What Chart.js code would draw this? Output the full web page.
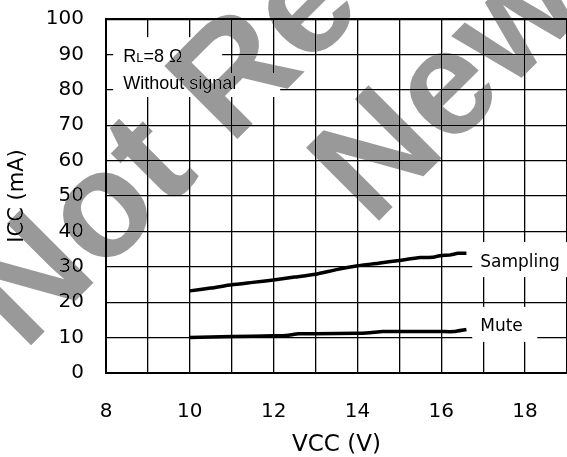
<!DOCTYPE html>
<html>
<head>
<meta charset="utf-8">
<script src="https://cdn.jsdelivr.net/npm/chart.js@4.4.1/dist/chart.umd.min.js"></script>
<style>
  html, body { margin: 0; padding: 0; background: #fff; }
  canvas { display: block; }
</style>
</head>
<body>
<canvas id="grafico" width="567" height="457"></canvas>
<script>
// Datos (VCC en V, ICC en mA)
const vccSampling = [10, 10.5, 11, 11.5, 12, 12.5, 13, 13.5, 14, 14.5, 15, 15.5, 15.8, 16, 16.2, 16.4, 16.6];
const iccSampling = [23.2, 24.0, 24.9, 25.6, 26.3, 27.1, 27.9, 29.2, 30.3, 31.0, 31.8, 32.6, 32.7, 33.2, 33.3, 33.8, 33.8];
const vccMute = [10, 11, 12, 12.3, 12.6, 13, 14, 14.3, 14.6, 15, 16, 16.3, 16.6];
const iccMute = [10.0, 10.3, 10.5, 10.6, 11.1, 11.1, 11.2, 11.4, 11.7, 11.7, 11.7, 11.7, 12.3];
const xEtiquetas = [8, 10, 12, 14, 16, 18];
const yEtiquetas = [0, 10, 20, 30, 40, 50, 60, 70, 80, 90, 100];

const aPuntos = (xs, ys) => xs.map((x, i) => ({ x: x, y: ys[i] }));

// Notas con fondo blanco (x, y en unidades de los ejes; caja en px respecto al texto)
const notas = [
  { partes: [['R', 18], ['L', 13], ['=8 Ω', 18]], fuente: '"Liberation Sans", Arial', x: 8.41, y: 89.8, caja: [-10, -18, 99, 18] },
  { partes: [['Without signal', 18]], fuente: '"Liberation Sans", Arial', x: 8.41, y: 82.2, caja: [-10, -9, 157, 15] },
  { partes: [['Sampling', 17]], fuente: '"DejaVu Sans"', x: 16.93, y: 31.9, caja: [-8, -18, 90, 17] },
  { partes: [['Mute', 17]], fuente: '"DejaVu Sans"', x: 16.93, y: 13.6, caja: [-8, -18, 57, 17] }
];

const fondoBlanco = {
  id: 'fondoBlanco',
  beforeDraw(chart) {
    const ctx = chart.ctx;
    ctx.save();
    ctx.fillStyle = '#ffffff';
    ctx.fillRect(0, 0, chart.width, chart.height);
    ctx.restore();
  }
};

const notasPlugin = {
  id: 'notas',
  afterDatasetsDraw(chart) {
    const ctx = chart.ctx;
    const sx = chart.scales.x, sy = chart.scales.y;
    ctx.save();
    notas.forEach(n => {
      const px = sx.getPixelForValue(n.x);
      const py = sy.getPixelForValue(n.y);
      ctx.fillStyle = '#ffffff';
      ctx.fillRect(px + n.caja[0], py + n.caja[1], n.caja[2] - n.caja[0], n.caja[3] - n.caja[1]);
      ctx.fillStyle = '#000000';
      ctx.textBaseline = 'alphabetic';
      ctx.textAlign = 'left';
      let cx = px;
      n.partes.forEach(([t, tam]) => {
        ctx.font = tam + 'px ' + n.fuente;
        ctx.fillText(t, cx, py + 6.5);
        cx += ctx.measureText(t).width;
      });
    });
    ctx.restore();
  }
};

// Marca de agua gris (oscurece solo lo blanco)
const marcaAgua = {
  id: 'marcaAgua',
  afterDraw(chart) {
    const ctx = chart.ctx;
    ctx.save();
    ctx.globalCompositeOperation = 'darken';
    ctx.fillStyle = '#999999';
    ctx.font = 'bold 150px "Liberation Sans", Arial';
    ctx.textBaseline = 'alphabetic';
    ctx.rotate(-Math.PI / 4);
    ctx.fillText('Not Recommended for', -232, 266);
    ctx.fillText('New Designs', 102, 424);
    ctx.restore();
  }
};

const sinRelleno = s => {
  s.paddingTop = 0;
  s.paddingBottom = 0;
  s.paddingLeft = 0;
  s.paddingRight = 0;
};

new Chart(document.getElementById('grafico'), {
  type: 'scatter',
  data: {
    datasets: [
      {
        label: 'Sampling',
        data: aPuntos(vccSampling, iccSampling),
        showLine: true,
        borderColor: '#000',
        borderWidth: 3.5,
        pointRadius: 0,
        tension: 0.2
      },
      {
        label: 'Mute',
        data: aPuntos(vccMute, iccMute),
        showLine: true,
        borderColor: '#000',
        borderWidth: 3.5,
        pointRadius: 0,
        tension: 0.2
      }
    ]
  },
  options: {
    responsive: false,
    animation: false,
    devicePixelRatio: 1,
    layout: { padding: { top: 19, right: 0, left: 0, bottom: 0 } },
    plugins: {
      legend: { display: false },
      tooltip: { enabled: false }
    },
    scales: {
      x: {
        type: 'linear',
        min: 8,
        max: 19,
        afterFit: s => { s.height = 84; sinRelleno(s); },
        afterBuildTicks: s => {
          s.ticks = [];
          for (let v = 8; v <= 19; v++) s.ticks.push({ value: v });
        },
        ticks: {
          autoSkip: false,
          maxRotation: 0,
          padding: 27,
          color: '#000',
          font: { family: '"DejaVu Sans"', size: 20 },
          callback: v => xEtiquetas.includes(v) ? String(v) : ''
        },
        grid: { color: '#000', lineWidth: 1.3, drawTicks: false },
        border: { color: '#000', width: 2 },
        title: {
          display: true,
          text: 'VCC (V)',
          color: '#000',
          font: { family: '"DejaVu Sans"', size: 23, lineHeight: 1 },
          padding: { top: 0, bottom: 0 }
        }
      },
      y: {
        min: 0,
        max: 100,
        afterFit: s => { s.width = 106; sinRelleno(s); },
        afterBuildTicks: s => { s.ticks = yEtiquetas.map(v => ({ value: v })); },
        ticks: {
          padding: 22,
          color: '#000',
          font: { family: '"DejaVu Sans"', size: 20 }
        },
        grid: {
          color: '#000',
          lineWidth: c => (c.tick && c.tick.value === 100) ? 2.2 : 1.3,
          drawTicks: false
        },
        border: { color: '#000', width: 2 },
        title: {
          display: true,
          text: 'ICC (mA)',
          color: '#000',
          font: { family: '"DejaVu Sans"', size: 21, lineHeight: 1 },
          padding: { top: 7, bottom: 0 }
        }
      }
    }
  },
  plugins: [fondoBlanco, notasPlugin, marcaAgua]
});
</script>
</body>
</html>
